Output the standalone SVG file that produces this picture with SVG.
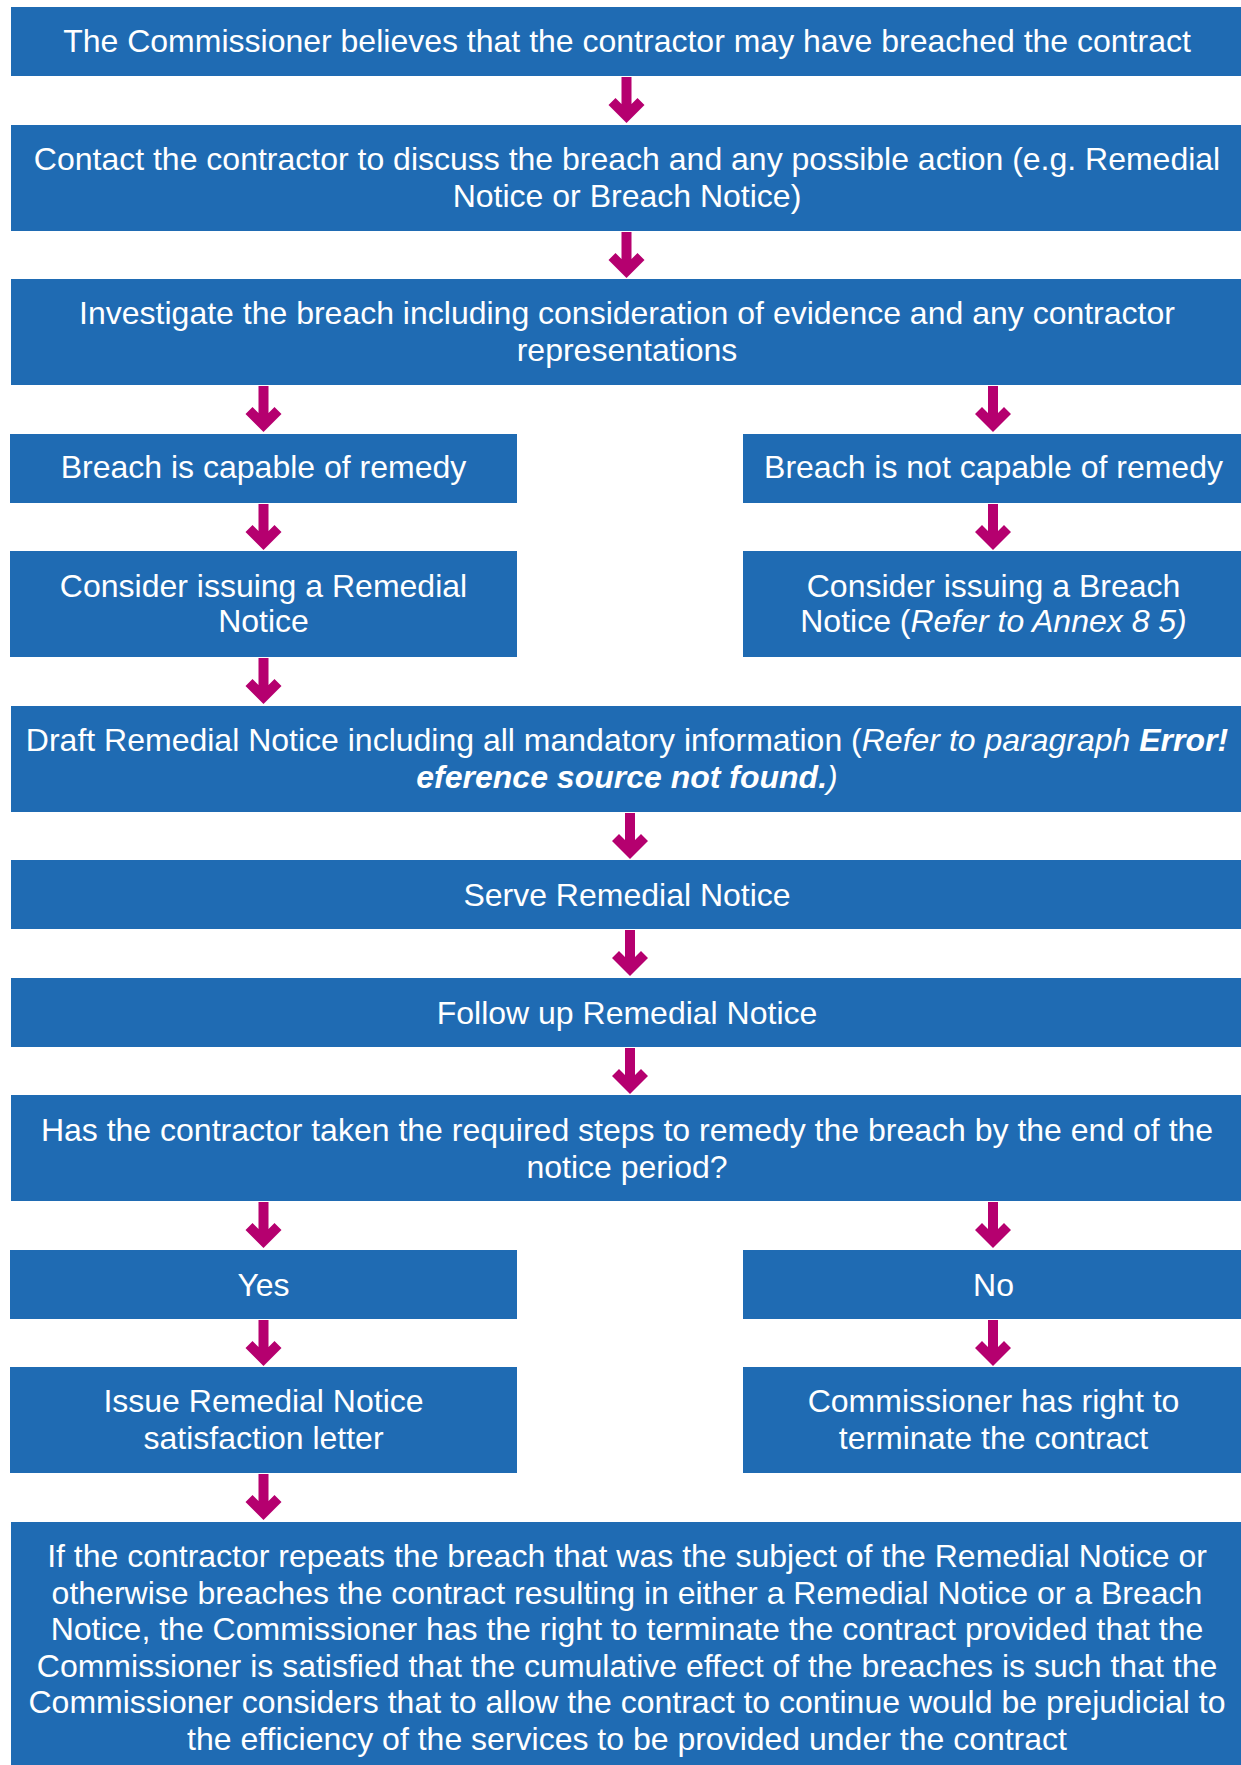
<svg xmlns="http://www.w3.org/2000/svg" xmlns:xlink="http://www.w3.org/1999/xlink" width="1241" height="1765" viewBox="0 0 1241 1765">
  <style>
    .box { fill: #1F6BB3; }
    .lbl { fill: #FFFFFF; font-family: "Liberation Sans", Arial, sans-serif; font-size: 32px; text-anchor: middle; }
    .it { font-style: italic; }
    .bi { font-style: italic; font-weight: bold; }
    .arrow { fill: #B5006F; }
  </style>
  <defs>
    <!-- thick down arrow, origin at top centre of the shaft -->
    <path id="down" d="M-5,0 H5 V27 L11,21 L18,28 L0,46 L-18,28 L-11,21 L-5,27 Z"/>
  </defs>
  <rect width="1241" height="1765" fill="#FFFFFF"/>

  <g id="connectors" class="arrow">
    <use xlink:href="#down" href="#down" x="626.5" y="77"/>
    <use xlink:href="#down" href="#down" x="626.5" y="232"/>
    <use xlink:href="#down" href="#down" x="263.5" y="386"/>
    <use xlink:href="#down" href="#down" x="993" y="386"/>
    <use xlink:href="#down" href="#down" x="263.5" y="504"/>
    <use xlink:href="#down" href="#down" x="993" y="504"/>
    <use xlink:href="#down" href="#down" x="263.5" y="658"/>
    <use xlink:href="#down" href="#down" x="630" y="813"/>
    <use xlink:href="#down" href="#down" x="630" y="930"/>
    <use xlink:href="#down" href="#down" x="630" y="1048"/>
    <use xlink:href="#down" href="#down" x="263.5" y="1202"/>
    <use xlink:href="#down" href="#down" x="993" y="1202"/>
    <use xlink:href="#down" href="#down" x="263.5" y="1320"/>
    <use xlink:href="#down" href="#down" x="993" y="1320"/>
    <use xlink:href="#down" href="#down" x="263.5" y="1474"/>
  </g>

  <g id="start">
    <rect class="box" x="11" y="7" width="1230" height="69"/>
    <text class="lbl" x="627" y="52">The Commissioner believes that the contractor may have breached the contract</text>
  </g>

  <g id="contact">
    <rect class="box" x="11" y="125" width="1230" height="106"/>
    <text class="lbl" x="627" y="170">Contact the contractor to discuss the breach and any possible action (e.g. Remedial</text>
    <text class="lbl" x="627" y="207">Notice or Breach Notice)</text>
  </g>

  <g id="investigate">
    <rect class="box" x="11" y="279" width="1230" height="106"/>
    <text class="lbl" x="627" y="324">Investigate the breach including consideration of evidence and any contractor</text>
    <text class="lbl" x="627" y="361">representations</text>
  </g>

  <g id="capable">
    <rect class="box" x="10" y="434" width="507" height="69"/>
    <text class="lbl" x="263.5" y="478">Breach is capable of remedy</text>
  </g>

  <g id="not-capable">
    <rect class="box" x="743" y="434" width="498" height="69"/>
    <text class="lbl" x="993.5" y="478">Breach is not capable of remedy</text>
  </g>

  <g id="consider-remedial">
    <rect class="box" x="10" y="551" width="507" height="106"/>
    <text class="lbl" x="263.5" y="597">Consider issuing a Remedial</text>
    <text class="lbl" x="263.5" y="632">Notice</text>
  </g>

  <g id="consider-breach">
    <rect class="box" x="743" y="551" width="498" height="106"/>
    <text class="lbl" x="993.5" y="597">Consider issuing a Breach</text>
    <text class="lbl" x="993.5" y="632">Notice (<tspan class="it">Refer to Annex 8 5)</tspan></text>
  </g>

  <g id="draft">
    <rect class="box" x="11" y="706" width="1230" height="106"/>
    <text class="lbl" x="627" y="751">Draft Remedial Notice including all mandatory information (<tspan class="it">Refer to paragraph </tspan><tspan class="bi">Error!</tspan></text>
    <text class="lbl" x="627" y="788"><tspan class="bi">eference source not found.</tspan><tspan class="it">)</tspan></text>
  </g>

  <g id="serve">
    <rect class="box" x="11" y="860" width="1230" height="69"/>
    <text class="lbl" x="627" y="906">Serve Remedial Notice</text>
  </g>

  <g id="follow-up">
    <rect class="box" x="11" y="978" width="1230" height="69"/>
    <text class="lbl" x="627" y="1024">Follow up Remedial Notice</text>
  </g>

  <g id="question">
    <rect class="box" x="11" y="1095" width="1230" height="106"/>
    <text class="lbl" x="627" y="1141">Has the contractor taken the required steps to remedy the breach by the end of the</text>
    <text class="lbl" x="627" y="1178">notice period?</text>
  </g>

  <g id="yes">
    <rect class="box" x="10" y="1250" width="507" height="69"/>
    <text class="lbl" x="263.5" y="1296">Yes</text>
  </g>

  <g id="no">
    <rect class="box" x="743" y="1250" width="498" height="69"/>
    <text class="lbl" x="993.5" y="1296">No</text>
  </g>

  <g id="satisfaction">
    <rect class="box" x="10" y="1367" width="507" height="106"/>
    <text class="lbl" x="263.5" y="1412">Issue Remedial Notice</text>
    <text class="lbl" x="263.5" y="1449">satisfaction letter</text>
  </g>

  <g id="terminate">
    <rect class="box" x="743" y="1367" width="498" height="106"/>
    <text class="lbl" x="993.5" y="1412">Commissioner has right to</text>
    <text class="lbl" x="993.5" y="1449">terminate the contract</text>
  </g>

  <g id="repeat-breach">
    <rect class="box" x="11" y="1522" width="1230" height="243"/>
    <text class="lbl" x="627" y="1567">If the contractor repeats the breach that was the subject of the Remedial Notice or</text>
    <text class="lbl" x="627" y="1603.5">otherwise breaches the contract resulting in either a Remedial Notice or a Breach</text>
    <text class="lbl" x="627" y="1640">Notice, the Commissioner has the right to terminate the contract provided that the</text>
    <text class="lbl" x="627" y="1676.5">Commissioner is satisfied that the cumulative effect of the breaches is such that the</text>
    <text class="lbl" x="627" y="1713">Commissioner considers that to allow the contract to continue would be prejudicial to</text>
    <text class="lbl" x="627" y="1749.5">the efficiency of the services to be provided under the contract</text>
  </g>
</svg>
